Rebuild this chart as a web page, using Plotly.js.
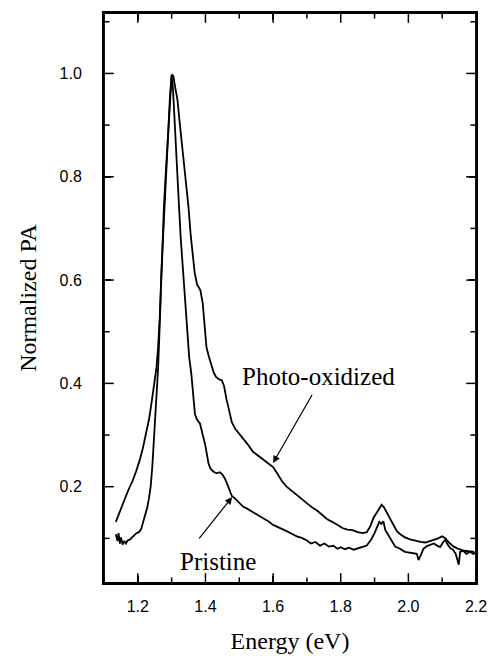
<!DOCTYPE html>
<html>
<head>
<meta charset="utf-8">
<script src="https://cdn.plot.ly/plotly-3.0.1.min.js"></script>
<style>html,body{margin:0;padding:0;background:#fff;}#chart{width:491px;height:659px;}</style>
</head>
<body>
<div id="chart"></div>
<script>
// Photo-oxidized spectrum (Energy in eV, normalized PA)
var photoX = [1.135,1.145,1.155,1.165,1.175,1.185,1.195,1.205,1.215,1.225,1.233,1.240,1.248,1.255,1.260,1.265,1.270,1.275,1.280,1.285,1.290,1.295,1.300,1.305,1.310,1.317,1.323,1.328,1.335,1.342,1.350,1.356,1.362,1.368,1.375,1.385,1.392,1.398,1.403,1.410,1.418,1.425,1.432,1.440,1.448,1.455,1.462,1.470,1.478,1.488,1.500,1.512,1.525,1.540,1.552,1.562,1.575,1.590,1.600,1.612,1.625,1.640,1.655,1.670,1.685,1.700,1.715,1.730,1.745,1.760,1.775,1.790,1.805,1.820,1.835,1.850,1.865,1.877,1.887,1.897,1.907,1.915,1.921,1.928,1.936,1.946,1.956,1.966,1.976,1.990,2.005,2.020,2.036,2.050,2.062,2.075,2.088,2.100,2.110,2.120,2.134,2.150,2.165,2.180,2.195];
var photoY = [0.132,0.150,0.168,0.182,0.198,0.212,0.230,0.250,0.275,0.305,0.330,0.360,0.400,0.430,0.470,0.530,0.620,0.690,0.770,0.840,0.900,0.955,0.998,0.995,0.975,0.950,0.910,0.880,0.840,0.800,0.740,0.690,0.650,0.615,0.592,0.580,0.555,0.510,0.470,0.452,0.435,0.420,0.412,0.408,0.406,0.395,0.370,0.345,0.325,0.312,0.302,0.294,0.282,0.268,0.262,0.258,0.250,0.244,0.238,0.226,0.212,0.200,0.192,0.185,0.177,0.168,0.160,0.154,0.145,0.137,0.132,0.126,0.120,0.117,0.116,0.112,0.110,0.112,0.123,0.140,0.150,0.160,0.165,0.160,0.150,0.136,0.124,0.114,0.108,0.102,0.098,0.095,0.093,0.092,0.094,0.097,0.100,0.104,0.100,0.092,0.084,0.079,0.076,0.075,0.074];

// Pristine spectrum
var pristX = [1.135,1.140,1.143,1.147,1.150,1.155,1.160,1.165,1.170,1.177,1.183,1.190,1.196,1.203,1.210,1.216,1.222,1.228,1.233,1.238,1.243,1.247,1.251,1.256,1.260,1.264,1.268,1.272,1.277,1.282,1.287,1.292,1.297,1.300,1.304,1.309,1.314,1.318,1.322,1.327,1.333,1.340,1.346,1.352,1.358,1.364,1.369,1.375,1.384,1.392,1.399,1.405,1.409,1.415,1.424,1.433,1.442,1.450,1.458,1.465,1.472,1.478,1.486,1.495,1.505,1.512,1.522,1.535,1.548,1.562,1.575,1.588,1.600,1.611,1.625,1.640,1.655,1.670,1.685,1.700,1.712,1.725,1.739,1.752,1.765,1.778,1.790,1.800,1.812,1.825,1.838,1.850,1.862,1.877,1.890,1.900,1.908,1.914,1.920,1.926,1.932,1.940,1.946,1.954,1.961,1.975,1.990,2.005,2.018,2.025,2.030,2.036,2.045,2.055,2.065,2.075,2.085,2.094,2.102,2.109,2.116,2.124,2.132,2.140,2.149,2.153,2.162,2.172,2.182,2.192,2.198];
var pristY = [0.108,0.095,0.110,0.090,0.102,0.088,0.095,0.090,0.096,0.098,0.102,0.106,0.110,0.112,0.118,0.132,0.145,0.160,0.178,0.200,0.240,0.285,0.330,0.370,0.430,0.500,0.580,0.670,0.740,0.800,0.850,0.900,0.960,0.995,0.970,0.900,0.840,0.790,0.740,0.680,0.620,0.550,0.500,0.450,0.420,0.370,0.340,0.330,0.322,0.300,0.282,0.260,0.245,0.235,0.229,0.226,0.228,0.224,0.215,0.204,0.192,0.182,0.178,0.172,0.166,0.161,0.158,0.153,0.148,0.142,0.136,0.132,0.126,0.123,0.118,0.114,0.109,0.104,0.101,0.096,0.090,0.093,0.086,0.090,0.084,0.086,0.080,0.083,0.079,0.082,0.078,0.081,0.083,0.086,0.098,0.110,0.125,0.132,0.128,0.133,0.116,0.108,0.102,0.092,0.084,0.080,0.074,0.072,0.071,0.070,0.058,0.066,0.080,0.085,0.088,0.090,0.086,0.083,0.092,0.097,0.088,0.081,0.078,0.070,0.049,0.074,0.076,0.070,0.074,0.070,0.072];

// Axis ranges and tick positions
var xRange = [1.1, 2.2];
var yRange = [0.0136, 1.117];
var xTickVals = [1.2,1.4,1.6,1.8,2.0,2.2];
var xTickText = ['1.2','1.4','1.6','1.8','2.0','2.2'];
var xMinorVals = [1.1,1.3,1.5,1.7,1.9,2.1];
var yTickVals = [0.2,0.4,0.6,0.8,1.0];
var yTickText = ['0.2','0.4','0.6','0.8','1.0'];
var yMinorVals = [0.1,0.3,0.5,0.7,0.9,1.1];

var lineStyle = {color:'#000', width:1.8};
var traces = [
  {x: photoX, y: photoY, mode:'lines', line: lineStyle, name:'Photo-oxidized', showlegend:false},
  {x: pristX, y: pristY, mode:'lines', line: lineStyle, name:'Pristine', showlegend:false}
];

// Inside tick marks on all four frame sides, placed through the axes' own scales
// (markers centred on the frame edge; the outer half is clipped by the plot area).
function tickMarks(xv, yv, symbol, size){
  return {x: xv, y: yv, mode:'markers', cliponaxis:true, hoverinfo:'skip', showlegend:false,
    marker:{symbol: symbol, size: size, color:'#000', line:{color:'#000', width:1.5}}};
}
function repeatVal(v, n){ var a=[]; for (var i=0;i<n;i++) a.push(v); return a; }
[[xTickVals,14],[xMinorVals,8]].forEach(function(p){
  traces.push(tickMarks(p[0], repeatVal(yRange[0], p[0].length), 'line-ns-open', p[1]));
  traces.push(tickMarks(p[0], repeatVal(yRange[1], p[0].length), 'line-ns-open', p[1]));
});
[[yTickVals,14],[yMinorVals,8]].forEach(function(p){
  traces.push(tickMarks(repeatVal(xRange[0], p[0].length), p[0], 'line-ew-open', p[1]));
  traces.push(tickMarks(repeatVal(xRange[1], p[0].length), p[0], 'line-ew-open', p[1]));
});

var tickFont = {family:'Liberation Sans, Arial, sans-serif', size:16, color:'#000'};
var titleFont = {family:'Liberation Serif, Times New Roman, serif', size:24, color:'#000'};
var annFont = {family:'Liberation Serif, Times New Roman, serif', size:25, color:'#000'};

var layout = {
  width:491, height:659,
  margin:{l:104, r:15, t:13, b:76},
  paper_bgcolor:'#fff', plot_bgcolor:'#fff',
  showlegend:false,
  xaxis:{
    range:xRange, showgrid:false, zeroline:false,
    showline:true, linecolor:'#000', linewidth:2, mirror:'ticks',
    ticks:'inside', ticklen:7, tickwidth:1.5, tickcolor:'#000',
    tickmode:'array', tickvals:xTickVals, ticktext:xTickText,
    tickfont:tickFont, ticklabelstandoff:8,
    title:{text:'Energy (eV)', font:titleFont, standoff:18}
  },
  yaxis:{
    range:yRange, showgrid:false, zeroline:false,
    showline:true, linecolor:'#000', linewidth:2, mirror:'ticks',
    ticks:'inside', ticklen:7, tickwidth:1.5, tickcolor:'#000',
    tickmode:'array', tickvals:yTickVals, ticktext:yTickText,
    tickfont:tickFont, ticklabelstandoff:17,
    title:{text:'Normalized PA', font:titleFont, standoff:16}
  },
  shapes:[
    {type:'rect', xref:'paper', yref:'paper', x0:0, x1:1, y0:0, y1:1, line:{color:'#000', width:1.8}, fillcolor:'rgba(0,0,0,0)', layer:'above'}
  ],
  annotations:[
    {x:1.733, y:0.414, xref:'x', yref:'y', text:'Photo-oxidized', showarrow:false, font:annFont},
    {x:1.437, y:0.056, xref:'x', yref:'y', text:'Pristine', showarrow:false, font:annFont},
    {x:1.600, y:0.246, ax:1.718, ay:0.381, axref:'x', ayref:'y', xref:'x', yref:'y', text:'', showarrow:true, arrowhead:2, arrowsize:1.2, arrowwidth:1.2, arrowcolor:'#000'},
    {x:1.479, y:0.180, ax:1.378, ay:0.097, axref:'x', ayref:'y', xref:'x', yref:'y', text:'', showarrow:true, arrowhead:2, arrowsize:1.2, arrowwidth:1.2, arrowcolor:'#000'}
  ]
};

Plotly.newPlot('chart', traces, layout, {staticPlot:true, displayModeBar:false});
</script>
</body>
</html>
